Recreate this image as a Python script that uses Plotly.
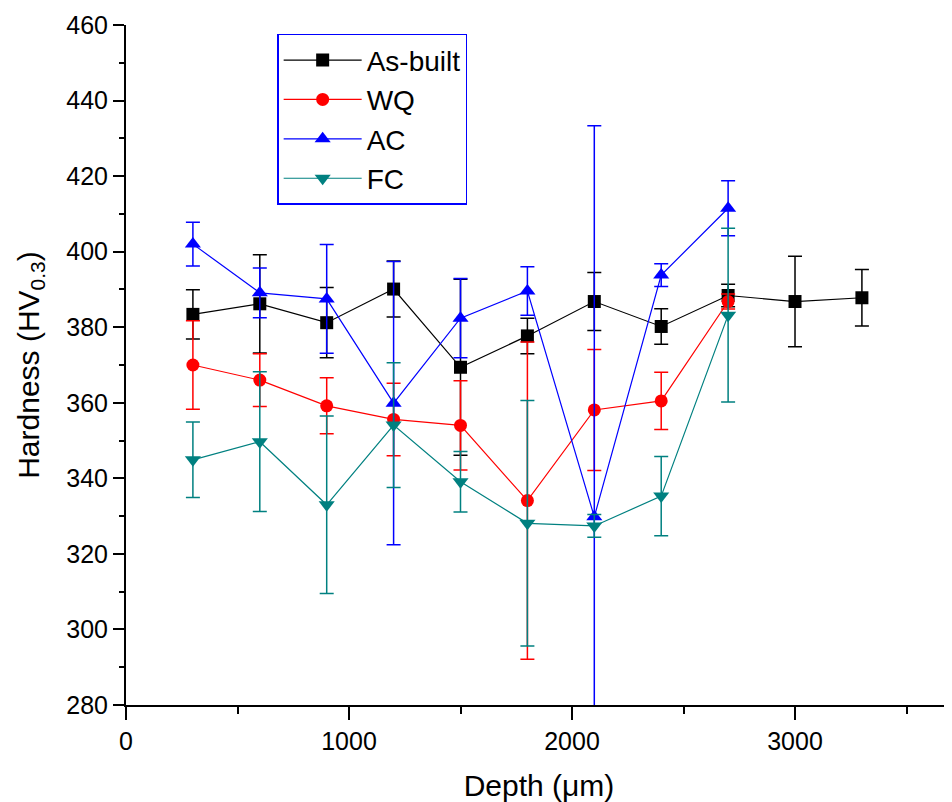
import plotly.graph_objects as go

depth_full = [300, 600, 900, 1200, 1500, 1800, 2100, 2400, 2700, 3000, 3300]
depth = [300, 600, 900, 1200, 1500, 1800, 2100, 2400, 2700]

asbuilt = [383.4, 386.2, 381.2, 390.1, 369.4, 377.7, 386.8, 380.2, 388.4, 386.8, 387.8]
asbuilt_err = [6.5, 13.0, 9.3, 7.4, 23.3, 4.7, 7.7, 4.7, 3.0, 12.0, 7.5]

wq = [370.0, 366.0, 359.2, 355.6, 354.0, 334.1, 358.1, 360.5, 386.8]
wq_err = [11.7, 7.0, 7.4, 9.6, 11.8, 42.0, 16.0, 7.6, 2.0]

ac = [402.0, 389.1, 387.5, 359.9, 382.4, 389.6, 329.8, 393.8, 411.5]
ac_err = [5.8, 6.6, 14.4, 37.5, 10.5, 6.4, 103.5, 3.0, 7.3]

fc = [344.9, 349.7, 333.0, 354.1, 339.1, 328.1, 327.4, 335.3, 383.2]
fc_err = [10.0, 18.5, 23.5, 16.5, 8.0, 32.5, 3.0, 10.5, 23.0]

series = [
    ("As-built", depth_full, asbuilt, asbuilt_err, "#000000", "square", 13),
    ("WQ", depth, wq, wq_err, "#ff0000", "circle", 13),
    ("AC", depth, ac, ac_err, "#0000ff", "triangle-up", 14),
    ("FC", depth, fc, fc_err, "#008080", "triangle-down", 14),
]

fig = go.Figure()
for name, xs, ys, errs, color, sym, size in series:
    fig.add_trace(go.Scatter(
        x=xs, y=ys, name=name, mode="lines+markers",
        legendgroup=name,
        line=dict(color=color, width=1.2),
        marker=dict(symbol=sym, size=size, color=color, line=dict(width=0)),
        error_y=dict(type="data", array=errs, visible=True, color=color,
                     thickness=1.5, width=7),
    ))

font_family = "Liberation Sans, Arial, sans-serif"
fig.update_layout(
    width=944, height=794,
    margin=dict(l=118, r=0, t=17, b=97, autoexpand=False),
    paper_bgcolor="white", plot_bgcolor="white",
    font=dict(family=font_family, color="black"),
    showlegend=True,
    legend=dict(
        x=0.183, y=0.987, xanchor="left", yanchor="top",
        bordercolor="#0000ff", borderwidth=1.5, bgcolor="white",
        font=dict(size=28, family=font_family, color="black"),
        tracegroupgap=0, itemwidth=78,
    ),
    xaxis=dict(
        range=[0, 3704], showgrid=False, zeroline=False, automargin=False,
        showline=True, linecolor="black", linewidth=2,
        ticks="outside", ticklen=13, tickwidth=2, tickcolor="black",
        dtick=1000, tick0=0,
        minor=dict(ticks="outside", ticklen=7, tickwidth=2, tickcolor="black", dtick=500),
        tickfont=dict(size=25, family=font_family, color="black"),
        title=dict(text="Depth (\u03bcm)", font=dict(size=30, family=font_family, color="black"), standoff=29),
    ),
    yaxis=dict(
        range=[280, 460], showgrid=False, zeroline=False, automargin=False,
        showline=True, linecolor="black", linewidth=2,
        ticks="outside", ticklen=11, tickwidth=2, tickcolor="black",
        dtick=20, tick0=280,
        minor=dict(ticks="outside", ticklen=5, tickwidth=2, tickcolor="black", dtick=10),
        tickfont=dict(size=25, family=font_family, color="black"),
        title=dict(text="Hardness (HV<sub>0.3</sub>)", font=dict(size=30, family=font_family, color="black"), standoff=18),
    ),
)

fig.write_html("out.html")
